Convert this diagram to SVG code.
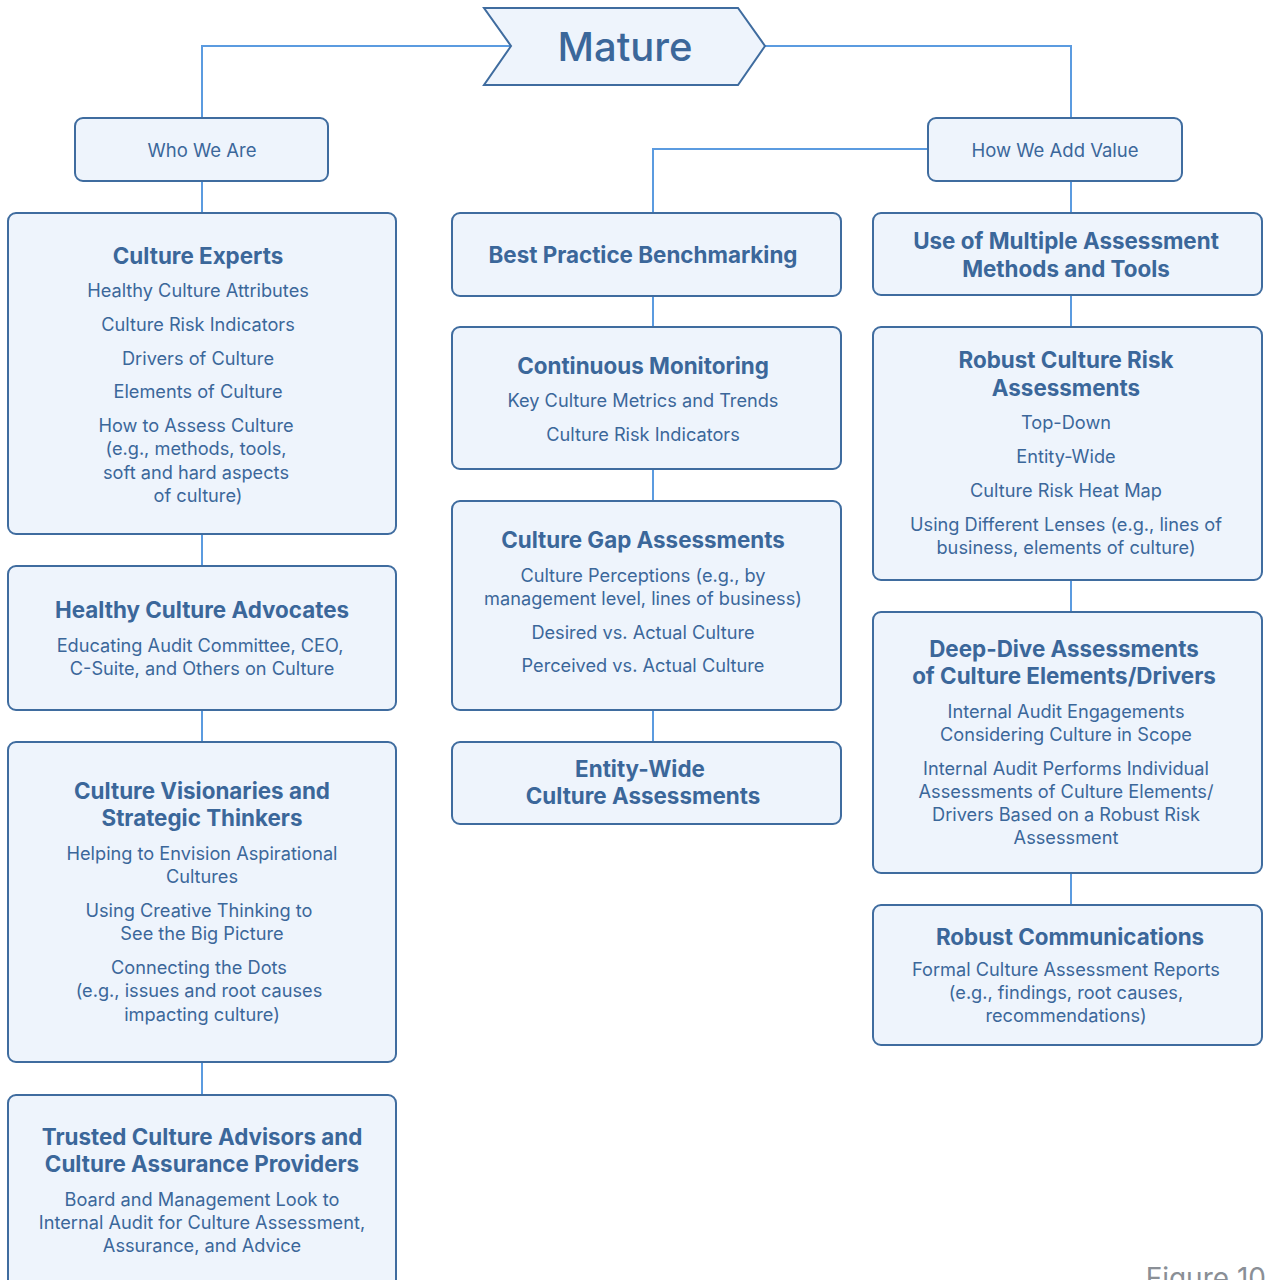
<svg xmlns="http://www.w3.org/2000/svg" width="1266" height="1280" viewBox="0 0 1266 1280">
<style>
.box{fill:#EEF4FC;stroke:#3F6C9F;stroke-width:2}
.ln{fill:none;stroke:#5B9BE0;stroke-width:2}
text{font-family:Inter,"Liberation Sans",sans-serif;fill:#3B679A;text-anchor:middle}
.t{font-size:22.4px;font-weight:700}
.b{font-size:18.2px}
.h{font-size:18.5px}
</style>
<rect width="1266" height="1280" fill="#ffffff"/>
<g id="connectors">
<polyline class="ln" points="511,46 202,46 202,118"/>
<polyline class="ln" points="765,46 1071,46 1071,118"/>
<polyline class="ln" points="928,149 653,149 653,213"/>
<line class="ln" x1="202" y1="181" x2="202" y2="213"/>
<line class="ln" x1="202" y1="534" x2="202" y2="566"/>
<line class="ln" x1="202" y1="710" x2="202" y2="742"/>
<line class="ln" x1="202" y1="1062" x2="202" y2="1095"/>
<line class="ln" x1="653" y1="296" x2="653" y2="327"/>
<line class="ln" x1="653" y1="469" x2="653" y2="501"/>
<line class="ln" x1="653" y1="710" x2="653" y2="742"/>
<line class="ln" x1="1071" y1="181" x2="1071" y2="213"/>
<line class="ln" x1="1071" y1="295" x2="1071" y2="327"/>
<line class="ln" x1="1071" y1="580" x2="1071" y2="612"/>
<line class="ln" x1="1071" y1="873" x2="1071" y2="905"/>
</g>
<g id="mature">
<polygon class="box" points="484,8 738,8 765,46 738,85 484,85 511,46"/>
<text x="625" y="61" style="font-size:40px;font-weight:500">Mature</text>
</g>
<g id="who-we-are">
<rect class="box" x="75" y="118" width="253" height="63" rx="8"/>
<text class="h" x="202" y="157">Who We Are</text>
</g>
<g id="how-we-add-value">
<rect class="box" x="928" y="118" width="254" height="63" rx="8"/>
<text class="h" x="1055" y="157">How We Add Value</text>
</g>
<g id="culture-experts">
<rect class="box" x="8" y="213" width="388" height="321" rx="8"/>
<text class="t" x="198" y="264">Culture Experts</text>
<text class="b" x="198" y="297">Healthy Culture Attributes</text>
<text class="b" x="198" y="331">Culture Risk Indicators</text>
<text class="b" x="198" y="365">Drivers of Culture</text>
<text class="b" x="198" y="398">Elements of Culture</text>
<text class="b" x="196" y="432">How to Assess Culture</text>
<text class="b" x="196" y="455">(e.g., methods, tools,</text>
<text class="b" x="196" y="479">soft and hard aspects</text>
<text class="b" x="198" y="502">of culture)</text>
</g>
<g id="healthy-culture-advocates">
<rect class="box" x="8" y="566" width="388" height="144" rx="8"/>
<text class="t" x="202" y="618">Healthy Culture Advocates</text>
<text class="b" x="200" y="652">Educating Audit Committee, CEO,</text>
<text class="b" x="202" y="675">C-Suite, and Others on Culture</text>
</g>
<g id="culture-visionaries">
<rect class="box" x="8" y="742" width="388" height="320" rx="8"/>
<text class="t" x="202" y="799">Culture Visionaries and</text>
<text class="t" x="202" y="826">Strategic Thinkers</text>
<text class="b" x="202" y="860">Helping to Envision Aspirational</text>
<text class="b" x="202" y="883">Cultures</text>
<text class="b" x="199" y="917">Using Creative Thinking to</text>
<text class="b" x="202" y="940">See the Big Picture</text>
<text class="b" x="199" y="974">Connecting the Dots</text>
<text class="b" x="199" y="997">(e.g., issues and root causes</text>
<text class="b" x="202" y="1021">impacting culture)</text>
</g>
<g id="trusted-advisors">
<rect class="box" x="8" y="1095" width="388" height="200" rx="8"/>
<text class="t" x="202" y="1145">Trusted Culture Advisors and</text>
<text class="t" x="202" y="1172">Culture Assurance Providers</text>
<text class="b" x="202" y="1206">Board and Management Look to</text>
<text class="b" x="202" y="1229">Internal Audit for Culture Assessment,</text>
<text class="b" x="202" y="1252">Assurance, and Advice</text>
</g>
<g id="best-practice">
<rect class="box" x="452" y="213" width="389" height="83" rx="8"/>
<text class="t" x="643" y="263">Best Practice Benchmarking</text>
</g>
<g id="continuous-monitoring">
<rect class="box" x="452" y="327" width="389" height="142" rx="8"/>
<text class="t" x="643" y="374">Continuous Monitoring</text>
<text class="b" x="643" y="407">Key Culture Metrics and Trends</text>
<text class="b" x="643" y="441">Culture Risk Indicators</text>
</g>
<g id="culture-gap">
<rect class="box" x="452" y="501" width="389" height="209" rx="8"/>
<text class="t" x="643" y="548">Culture Gap Assessments</text>
<text class="b" x="643" y="582">Culture Perceptions (e.g., by</text>
<text class="b" x="643" y="605">management level, lines of business)</text>
<text class="b" x="643" y="639">Desired vs. Actual Culture</text>
<text class="b" x="643" y="672">Perceived vs. Actual Culture</text>
</g>
<g id="entity-wide">
<rect class="box" x="452" y="742" width="389" height="82" rx="8"/>
<text class="t" x="640" y="777">Entity-Wide</text>
<text class="t" x="643" y="804">Culture Assessments</text>
</g>
<g id="multiple-methods">
<rect class="box" x="873" y="213" width="389" height="82" rx="8"/>
<text class="t" x="1066" y="249">Use of Multiple Assessment</text>
<text class="t" x="1066" y="277">Methods and Tools</text>
</g>
<g id="robust-risk">
<rect class="box" x="873" y="327" width="389" height="253" rx="8"/>
<text class="t" x="1066" y="368">Robust Culture Risk</text>
<text class="t" x="1066" y="396">Assessments</text>
<text class="b" x="1066" y="429">Top-Down</text>
<text class="b" x="1066" y="463">Entity-Wide</text>
<text class="b" x="1066" y="497">Culture Risk Heat Map</text>
<text class="b" x="1066" y="531">Using Different Lenses (e.g., lines of</text>
<text class="b" x="1066" y="554">business, elements of culture)</text>
</g>
<g id="deep-dive">
<rect class="box" x="873" y="612" width="389" height="261" rx="8"/>
<text class="t" x="1064" y="657">Deep-Dive Assessments</text>
<text class="t" x="1064" y="684">of Culture Elements/Drivers</text>
<text class="b" x="1066" y="718">Internal Audit Engagements</text>
<text class="b" x="1066" y="741">Considering Culture in Scope</text>
<text class="b" x="1066" y="775">Internal Audit Performs Individual</text>
<text class="b" x="1066" y="798">Assessments of Culture Elements/</text>
<text class="b" x="1066" y="821">Drivers Based on a Robust Risk</text>
<text class="b" x="1066" y="844">Assessment</text>
</g>
<g id="robust-communications">
<rect class="box" x="873" y="905" width="389" height="140" rx="8"/>
<text class="t" x="1070" y="945">Robust Communications</text>
<text class="b" x="1066" y="976">Formal Culture Assessment Reports</text>
<text class="b" x="1066" y="999">(e.g., findings, root causes,</text>
<text class="b" x="1066" y="1022">recommendations)</text>
</g>
<text x="1266" y="1288" style="font-size:28px;fill:#8A8F96;text-anchor:end">Figure 10</text>
</svg>
